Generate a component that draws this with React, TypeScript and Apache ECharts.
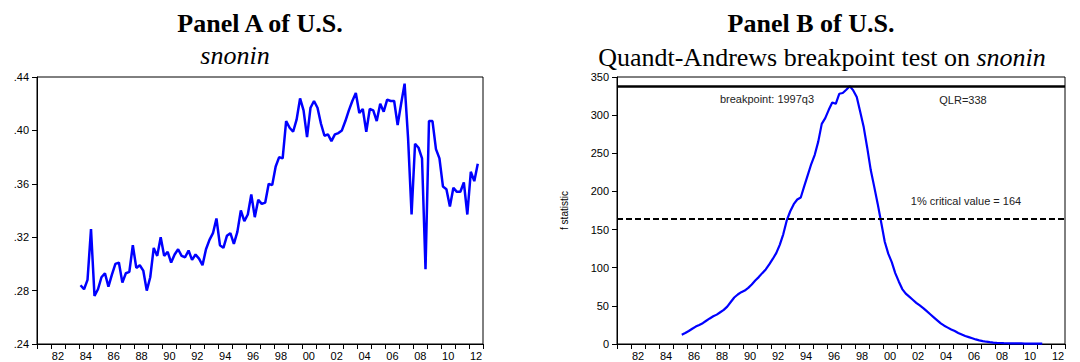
import React, { useEffect, useRef } from "react";
import * as echarts from "echarts";

// ---- Data ----
const AXIS_START_YEAR = 1981;
const AXIS_END_YEAR = 2013;

// Panel A: snonin, quarterly from 1984q1 to 2012q3
const snoninStartYear = 1984;
const snoninStartQuarter = 1;
const snonin = [
  0.284, 0.281, 0.288, 0.326,
  0.276, 0.281, 0.290, 0.293,
  0.283, 0.292, 0.300, 0.301,
  0.286, 0.293, 0.294, 0.314,
  0.297, 0.299, 0.295, 0.280,
  0.290, 0.312, 0.306, 0.320,
  0.306, 0.309, 0.301, 0.307,
  0.311, 0.306, 0.305, 0.310,
  0.303, 0.307, 0.304, 0.299,
  0.311, 0.318, 0.323, 0.334,
  0.314, 0.312, 0.321, 0.323,
  0.315, 0.324, 0.340, 0.332,
  0.337, 0.352, 0.335, 0.348,
  0.345, 0.346, 0.360, 0.359,
  0.373, 0.380, 0.379, 0.407,
  0.402, 0.399, 0.408, 0.424,
  0.415, 0.395, 0.417, 0.422,
  0.417, 0.405, 0.396, 0.397,
  0.392, 0.397, 0.398, 0.400,
  0.407, 0.415, 0.422, 0.428,
  0.413, 0.416, 0.399, 0.416,
  0.415, 0.407, 0.420, 0.414,
  0.423, 0.422, 0.422, 0.404,
  0.420, 0.435, 0.394, 0.337,
  0.390, 0.387, 0.379, 0.296,
  0.407, 0.407, 0.386, 0.379,
  0.358, 0.356, 0.343, 0.357,
  0.354, 0.354, 0.361, 0.337,
  0.369, 0.362, 0.375,
];

// Panel B: Quandt-Andrews F statistic, quarterly from 1985q3 to 2011q2
const fStatStartYear = 1985;
const fStatStartQuarter = 3;
const fStat = [
  12.2, 14.4,
  17, 20, 22.8, 25,
  27.3, 30.5, 33.5, 36.3,
  38.5, 41.6, 44.7, 49,
  55, 61, 64.9, 67.9,
  70.1, 73.6, 78, 83.3,
  87.7, 92.9, 97.8, 104.3,
  111.5, 119.2, 130, 143.8,
  162, 174, 183.3, 189.4,
  192.1, 207, 221.4, 235.9,
  248, 265.3, 288.6, 296,
  307, 316.6, 314.9, 328,
  329, 333.3, 338, 332.4,
  323.7, 304, 284, 257,
  228, 206, 183.3, 159,
  134, 118.4, 107.4, 93,
  82, 72, 66, 62,
  58, 54, 50.5, 47,
  43, 39, 35, 31,
  27, 24, 21.5, 19,
  17, 14.5, 12.5, 10.5,
  9, 7.5, 6, 4.8,
  3.8, 3, 2.4, 1.9,
  1.5, 1.3, 1.1, 1.0,
  0.9, 0.8, 0.7, 0.7,
  0.6, 0.6, 0.5, 0.5,
  0.4, 0.4,
];

const qlrValue = 338;
const criticalValue = 164;
const breakpointLabel = "breakpoint: 1997q3";
const qlrLabel = "QLR=338";
const criticalLabel = "1% critical value = 164";

const panelATitle = "Panel A of U.S.";
const panelASubtitle = "snonin";
const panelBTitle = "Panel B of U.S.";
const panelBSubtitlePrefix = "Quandt-Andrews breakpoint test on ";
const panelBSubtitleVar = "snonin";

// ---- helpers ----
function toQuarterly(startYear: number, startQuarter: number, values: number[]) {
  return values.map((v, i) => {
    const k = startQuarter - 1 + i;
    const t = startYear + Math.floor(k / 4) + (k % 4) / 4 + 0.125;
    return [t, v];
  });
}

const SANS = "Liberation Sans";
const SERIF = "Liberation Serif";

function makeXAxes(gridIndex: number) {
  return [
    {
      type: "value",
      gridIndex,
      position: "bottom",
      min: AXIS_START_YEAR,
      max: AXIS_END_YEAR,
      interval: 1,
      axisLine: { show: true, onZero: false, lineStyle: { color: "#000", width: 1 } },
      axisTick: { show: true, inside: false, length: 5, lineStyle: { color: "#000" } },
      axisLabel: { show: false },
      splitLine: { show: false },
    },
    {
      type: "value",
      gridIndex,
      position: "bottom",
      min: AXIS_START_YEAR,
      max: AXIS_END_YEAR,
      interval: 0.5,
      axisLine: { show: false, onZero: false },
      axisTick: { show: false },
      splitLine: { show: false },
      axisLabel: {
        show: true,
        margin: 6,
        fontSize: 11,
        fontFamily: SANS,
        color: "#000",
        formatter: (v: number) =>
          Math.abs((v % 2) - 0.5) < 1e-6
            ? String(Math.floor(v) % 100).padStart(2, "0")
            : "",
      },
    },
  ];
}

export default function App() {
  const ref = useRef<HTMLDivElement>(null);

  useEffect(() => {
    document.body.style.margin = "0";
    if (!ref.current) return;
    const chart = echarts.init(ref.current, undefined, { renderer: "svg" });

    const option: any = {
      animation: false,
      backgroundColor: "#fff",
      grid: [
        {
          left: 37, top: 77, width: 446, height: 267,
          show: true, borderColor: "#000", borderWidth: 1, backgroundColor: "transparent",
        },
        {
          left: 617, top: 77, width: 448, height: 267,
          show: true, borderColor: "#000", borderWidth: 1, backgroundColor: "transparent",
        },
      ],
      xAxis: [...makeXAxes(0), ...makeXAxes(1)],
      yAxis: [
        {
          type: "value",
          gridIndex: 0,
          min: 0.24,
          max: 0.44,
          interval: 0.04,
          axisLine: { show: true, lineStyle: { color: "#000" } },
          axisTick: { show: true, length: 5, lineStyle: { color: "#000" } },
          splitLine: { show: false },
          axisLabel: {
            margin: 8,
            fontSize: 11,
            fontFamily: SANS,
            color: "#000",
            formatter: (v: number) => "." + String(Math.round(v * 100)),
          },
        },
        {
          type: "value",
          gridIndex: 1,
          min: 0,
          max: 350,
          interval: 50,
          name: "f statistic",
          nameLocation: "middle",
          nameGap: 48,
          nameTextStyle: { fontSize: 10, fontFamily: SANS, color: "#000" },
          axisLine: { show: true, lineStyle: { color: "#000" } },
          axisTick: { show: true, length: 5, lineStyle: { color: "#000" } },
          splitLine: { show: false },
          axisLabel: { margin: 8, fontSize: 11, fontFamily: SANS, color: "#000" },
        },
      ],
      series: [
        {
          type: "line",
          name: "snonin",
          xAxisIndex: 0,
          yAxisIndex: 0,
          data: toQuarterly(snoninStartYear, snoninStartQuarter, snonin),
          showSymbol: false,
          lineStyle: { color: "#0000ff", width: 2.5 },
          itemStyle: { color: "#0000ff" },
        },
        {
          type: "line",
          name: "f statistic",
          xAxisIndex: 2,
          yAxisIndex: 1,
          data: toQuarterly(fStatStartYear, fStatStartQuarter, fStat),
          showSymbol: false,
          lineStyle: { color: "#0000ff", width: 2.2 },
          itemStyle: { color: "#0000ff" },
          markLine: {
            silent: true,
            symbol: "none",
            label: { show: false },
            data: [
              { yAxis: qlrValue, lineStyle: { color: "#000", width: 2.5, type: "solid" } },
              { yAxis: criticalValue, lineStyle: { color: "#000", width: 2, type: [6, 3] } },
            ],
          },
        },
      ],
      graphic: [
        {
          type: "text",
          x: 260,
          y: 23,
          style: {
            text: panelATitle,
            align: "center",
            verticalAlign: "middle",
            fontFamily: SERIF,
            fontSize: 26,
            fontWeight: "bold",
            fill: "#000",
          },
        },
        {
          type: "text",
          x: 235,
          y: 55,
          style: {
            text: panelASubtitle,
            align: "center",
            verticalAlign: "middle",
            fontFamily: SERIF,
            fontSize: 26,
            fontStyle: "italic",
            fill: "#000",
          },
        },
        {
          type: "text",
          x: 811,
          y: 23,
          style: {
            text: panelBTitle,
            align: "center",
            verticalAlign: "middle",
            fontFamily: SERIF,
            fontSize: 26,
            fontWeight: "bold",
            fill: "#000",
          },
        },
        {
          type: "text",
          x: 822,
          y: 57,
          style: {
            text: "{r|" + panelBSubtitlePrefix + "}{i|" + panelBSubtitleVar + "}",
            align: "center",
            verticalAlign: "middle",
            fontFamily: SERIF,
            fontSize: 26,
            fill: "#000",
            rich: {
              r: { fontFamily: SERIF, fontSize: 26, fill: "#000", color: "#000" },
              i: { fontFamily: SERIF, fontSize: 26, fontStyle: "italic", fill: "#000", color: "#000" },
            },
          },
        },
        {
          type: "text",
          x: 767,
          y: 99,
          style: {
            text: breakpointLabel,
            align: "center",
            verticalAlign: "middle",
            fontFamily: SANS,
            fontSize: 11,
            fill: "#222",
          },
        },
        {
          type: "text",
          x: 963,
          y: 100,
          style: {
            text: qlrLabel,
            align: "center",
            verticalAlign: "middle",
            fontFamily: SANS,
            fontSize: 11,
            fill: "#222",
          },
        },
        {
          type: "text",
          x: 966,
          y: 201,
          style: {
            text: criticalLabel,
            align: "center",
            verticalAlign: "middle",
            fontFamily: SANS,
            fontSize: 11,
            fill: "#222",
          },
        },
      ],
    };

    chart.setOption(option);
    return () => chart.dispose();
  }, []);

  return <div ref={ref} style={{ width: 1080, height: 362 }} />;
}
